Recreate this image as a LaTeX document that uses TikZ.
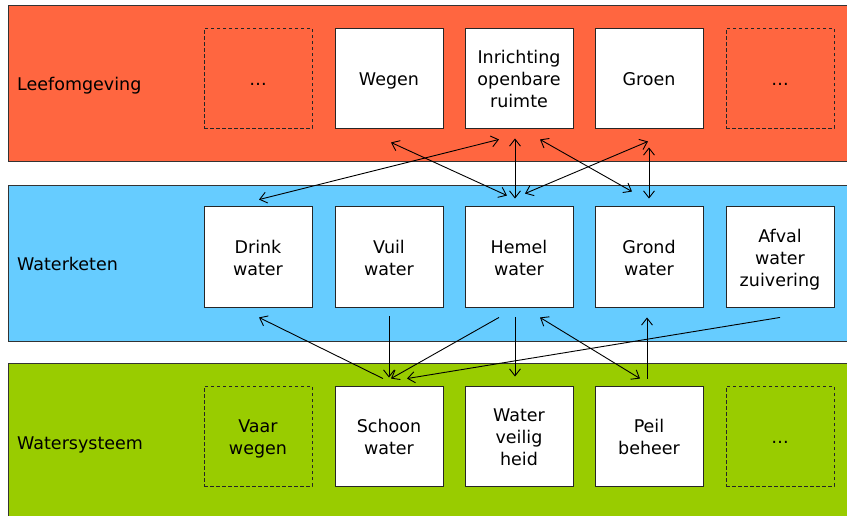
\documentclass[tikz,border=0pt]{standalone}
\usepackage{fontspec}
\setmainfont{DejaVu Sans}
\usetikzlibrary{arrows.meta,calc}
\definecolor{bandred}{HTML}{FF6640}
\definecolor{bandblue}{HTML}{66CCFF}
\definecolor{bandgreen}{HTML}{99CC00}
\definecolor{edge}{HTML}{333333}
\newcommand{\boxtxt}[1]{\raisebox{-3.5pt}[\height][\depth]{\begin{tabular}{@{}c@{}}#1\end{tabular}}}
\tikzset{
  band/.style={draw=edge, line width=1pt},
  box/.style={draw=black!85, fill=white, line width=0.9pt, minimum width=108pt, minimum height=100pt, align=center, inner sep=0pt, font=\fontsize{17.5}{22}\selectfont},
  dbox/.style={box, fill=none, dashed, dash pattern=on 3.5pt off 2.5pt},
  lbl/.style={anchor=base west, inner sep=0pt, font=\fontsize{17.5}{22}\selectfont},
  conn/.style={line width=0.9pt, arrows={-}, >={Straight Barb[length=7pt,width=11pt]}},
}
\begin{document}
\begin{tikzpicture}[x=1pt,y=-1pt]
\clip (0,0) rectangle (847,515);
\fill[white] (0,0) rectangle (847,515);
% bands
\draw[band, fill=bandred] (8,5.5) rectangle (870,161);
\draw[band, fill=bandblue] (8,185) rectangle (870,341);
\draw[band, fill=bandgreen] (8,363.5) rectangle (870,540);
\node[lbl] (l1) at (17,90) {Leefomgeving};
\node[lbl] (l2) at (17,270.5) {Waterketen};
\node[lbl] (l3) at (17,449) {Watersysteem};
% row 1
\node[dbox] (d1) at (258,78) {\boxtxt{…}};
\node[box] (wegen) at (389,78) {\boxtxt{Wegen}};
\node[box] (inr) at (519,78) {\boxtxt{Inrichting\\openbare\\ruimte}};
\node[box] (groen) at (649,78) {\boxtxt{Groen}};
\node[dbox] (d2) at (780,78) {\boxtxt{…}};
% row 2
\node[box, minimum height=101pt] (drink) at (258,256.5) {\boxtxt{Drink\\water}};
\node[box, minimum height=101pt] (vuil) at (389,256.5) {\boxtxt{Vuil\\water}};
\node[box, minimum height=101pt] (hemel) at (519,256.5) {\boxtxt{Hemel\\water}};
\node[box, minimum height=101pt] (grond) at (649,256.5) {\boxtxt{Grond\\water}};
\node[box, minimum height=101pt] (afval) at (780,256.5) {\boxtxt{Afval\\water\\zuivering}};
% row 3
\node[dbox] (vaar) at (258,436) {\boxtxt{Vaar\\wegen}};
\node[box] (schoon) at (389,436) {\boxtxt{Schoon\\water}};
\node[box] (veilig) at (519,436) {\boxtxt{Water\\veilig\\heid}};
\node[box] (peil) at (649,436) {\boxtxt{Peil\\beheer}};
\node[dbox] (d3) at (780,436) {\boxtxt{…}};
% connectors between row 1 and row 2
\draw[conn,<->] ($(drink.north)+(1,-6)$) -- ($(inr.south)+(-20,11)$);
\draw[conn,<->] ($(wegen.south)+(2,14)$) -- ($(hemel.north)+(-12,-10)$);
\draw[conn,<->] ($(inr.south)+(-4,10)$) -- ($(hemel.north)+(-4,-7)$);
\draw[conn,<->] ($(inr.south)+(21,11)$) -- ($(grond.north)+(-17,-14)$);
\draw[conn,<->] ($(hemel.north)+(6,-12)$) -- ($(groen.south)+(-1,13)$);
\draw[conn,<->] ($(groen.south)+(0,19)$) -- ($(grond.north)+(0,-7)$);
% connectors between row 2 and row 3
\draw[conn,->] ($(schoon.north)+(-6,-7)$) -- ($(drink.south)+(1,10)$);
\draw[conn,->] ($(vuil.south)+(0,9)$) -- ($(schoon.north)+(0,-8)$);
\draw[conn,->] ($(hemel.south)+(-20,10)$) -- ($(schoon.north)+(2,-7)$);
\draw[conn,->] ($(hemel.south)+(-4,10)$) -- ($(veilig.north)+(-4,-9)$);
\draw[conn,<->] ($(peil.north)+(-9,-7)$) -- ($(hemel.south)+(21,10)$);
\draw[conn,->] ($(peil.north)+(-2,-7)$) -- ($(grond.south)+(-2,10)$);
\draw[conn,->] ($(afval.south)+(0,10)$) -- ($(schoon.north)+(18,-7)$);
\end{tikzpicture}
\end{document}
